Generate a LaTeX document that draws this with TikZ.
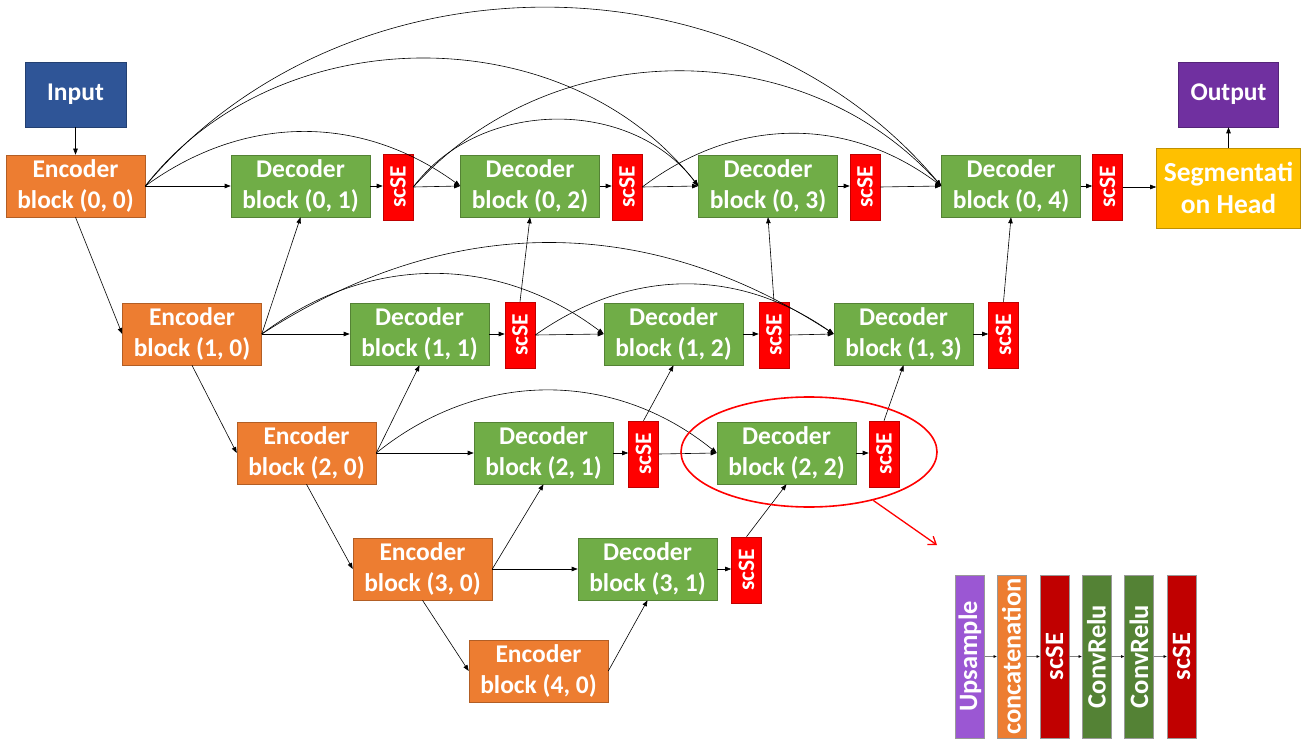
\documentclass[tikz,border=0pt]{standalone}
\usepackage{fontspec}
\usepackage{graphicx}
\setmainfont{Carlito}
\usetikzlibrary{arrows.meta,shapes.geometric}
\definecolor{cblue}{HTML}{2F5597}
\definecolor{corange}{HTML}{ED7D31}
\definecolor{cgreen}{HTML}{70AD47}
\definecolor{cred}{HTML}{FF0000}
\definecolor{cyellow}{HTML}{FFC000}
\definecolor{cpurple}{HTML}{7030A0}
\definecolor{cviolet}{HTML}{9B57D3}
\definecolor{cdred}{HTML}{C00000}
\definecolor{cdgreen}{HTML}{548235}
\begin{document}
\begin{tikzpicture}[x=1pt,y=-1pt,
  lbl/.style={font=\fontsize{25.5}{31}\selectfont\bfseries},
  box/.style={rectangle, draw=#1!75!black, fill=#1, text=white, lbl, align=center,
    minimum width=139pt, minimum height=62pt, inner sep=0pt, line width=0.6pt},
  enc/.style={box=corange},
  dec/.style={box=cgreen},
  se/.style={rectangle, draw=cred!75!black, fill=cred, text=white,
    font=\fontsize{23.5}{26}\selectfont\bfseries,
    minimum width=30pt, minimum height=66pt, inner sep=0pt, line width=0.6pt},
  bar/.style={rectangle, draw=gray!80, fill=#1, text=white, font=\fontsize{26.5}{30}\selectfont\bfseries,
    minimum width=29pt, minimum height=163pt, inner sep=0pt, line width=0.6pt},
  arr/.style={line width=0.6pt, -{Triangle[length=6pt,width=4.5pt]}},
  barr/.style={draw=gray, line width=0.5pt, -{Triangle[length=3pt,width=2.5pt,color=black]}}
]
\useasboundingbox (0,0) rectangle (1307,741);

% top row
\node[box=cblue, minimum width=101pt, minimum height=65pt] (in) at (75.5,94.5) {Input};
\node[enc] (e00) at (75.5,186) {Encoder\\block (0, 0)};
\node[dec] (d01) at (300.5,186) {Decoder\\block (0, 1)};
\node[se]  (s01) at (398,187) {\rotatebox{90}{scSE}};
\node[dec] (d02) at (530,186) {Decoder\\block (0, 2)};
\node[se]  (s02) at (627,187) {\rotatebox{90}{scSE}};
\node[dec] (d03) at (768,186) {Decoder\\block (0, 3)};
\node[se]  (s03) at (865,187) {\rotatebox{90}{scSE}};
\node[dec] (d04) at (1011,186) {Decoder\\block (0, 4)};
\node[se]  (s04) at (1107.5,187) {\rotatebox{90}{scSE}};
\node[box=cyellow, minimum width=144pt, minimum height=80pt, font=\fontsize{27.5}{32}\selectfont\bfseries] (seg) at (1228.5,188) {Segmentati\\on Head};
\node[box=cpurple, minimum width=100pt, minimum height=65pt] (out) at (1228.5,94.5) {Output};

% row 1
\node[enc] (e10) at (192,334) {Encoder\\block (1, 0)};
\node[dec] (d11) at (419.5,334) {Decoder\\block (1, 1)};
\node[se]  (s11) at (520,335) {\rotatebox{90}{scSE}};
\node[dec] (d12) at (673.5,334) {Decoder\\block (1, 2)};
\node[se]  (s12) at (774,335) {\rotatebox{90}{scSE}};
\node[dec] (d13) at (903.5,334) {Decoder\\block (1, 3)};
\node[se]  (s13) at (1003.5,335) {\rotatebox{90}{scSE}};

% row 2
\node[enc] (e20) at (306.5,453) {Encoder\\block (2, 0)};
\node[dec] (d21) at (543.5,453) {Decoder\\block (2, 1)};
\node[se]  (s21) at (643.5,454) {\rotatebox{90}{scSE}};
\node[dec] (d22) at (786.5,453) {Decoder\\block (2, 2)};
\node[se]  (s22) at (884,454) {\rotatebox{90}{scSE}};

% row 3
\node[enc] (e30) at (422.5,569) {Encoder\\block (3, 0)};
\node[dec] (d31) at (647.5,569) {Decoder\\block (3, 1)};
\node[se]  (s31) at (746.5,570) {\rotatebox{90}{scSE}};

% row 4
\node[enc] (e40) at (538.5,671) {Encoder\\block (4, 0)};

% vertical / diagonal connections
\draw[arr] (in) -- (e00);
\draw[arr] (seg.north) -- (out.south);
\draw[arr] (e00.south) -- (e10.west);
\draw[arr] (e10.south) -- (e20.west);
\draw[arr] (e20.south) -- (e30.west);
\draw[arr] (e30.south) -- (e40.west);
\draw[arr] (e10.east) -- (d01.south);
\draw[arr] (e20.east) -- (d11.south);
\draw[arr] (e30.east) -- (d21.south);
\draw[arr] (e40.east) -- (d31.south);
\draw[arr] (s11.north) -- (d02.south);
\draw[arr] (s12.north) -- (d03.south);
\draw[arr] (s13.north) -- (d04.south);
\draw[arr] (s21.north) -- (d12.south);
\draw[arr] (s22.north) -- (d13.south);
\draw[arr] (s31.north) -- (d22.south);

% horizontal connections
\draw[arr] (e00.east) -- (d01.west);
\draw[arr] (e10.east) -- (d11.west);
\draw[arr] (e20.east) -- (d21.west);
\draw[arr] (e30.east) -- (d31.west);
\foreach \d/\s in {d01/s01,d02/s02,d03/s03,d04/s04,d11/s11,d12/s12,d13/s13,d21/s21,d22/s22,d31/s31}
  \draw[arr] (\d.east) -- (\s.west |- \d.east);
\foreach \s/\d in {s01/d02,s02/d03,s03/d04,s11/d12,s12/d13,s21/d22}
  \draw[arr] (\s.east) -- (\d.west);
\draw[arr] (s04.east) -- (seg.west |- s04.east);

% skip arcs
\draw[arr] (e00.east) to[bend left=36] (d02.west);
\draw[arr] (e00.east) to[bend left=52] (d03.west);
\draw[arr] (e00.east) to[bend left=50] (d04.west);
\draw[arr] (s01.east) to[bend left=53] (d03.west);
\draw[arr] (s01.east) to[bend left=48] (d04.west);
\draw[arr] (s02.east) to[bend left=37] (d04.west);
\draw[arr] (e10.east) to[bend left=37] (d12.west);
\draw[arr] (e10.east) to[bend left=33] (d13.west);
\draw[arr] (s11.east) to[bend left=35] (d13.west);
\draw[arr] (e20.east) to[bend left=39] (d22.west);

% highlight
\node[draw=red, line width=1.6pt, ellipse, minimum width=256pt, minimum height=110pt, inner sep=0pt] (ell) at (809,452) {};
\coordinate (rtip) at (937,545);
\draw[red, line width=1.3pt, -{Straight Barb[length=7pt,width=10pt]}] (ell.-37) -- (rtip);

% detail bars
\node[bar=cviolet] (b1) at (970,656.5) {\rotatebox{90}{Upsample}};
\node[bar=corange] (b2) at (1011.5,656.5) {\rotatebox{90}{concatenation}};
\node[bar=cdred]   (b3) at (1054.5,656.5) {\rotatebox{90}{scSE}};
\node[bar=cdgreen] (b4) at (1096.5,656.5) {\rotatebox{90}{ConvRelu}};
\node[bar=cdgreen] (b5) at (1139,656.5) {\rotatebox{90}{ConvRelu}};
\node[bar=cdred]   (b6) at (1181.5,656.5) {\rotatebox{90}{scSE}};
\draw[barr] (b1.east) -- (b2.west);
\draw[barr] (b2.east) -- (b3.west);
\draw[barr] (b3.east) -- (b4.west);
\draw[barr] (b4.east) -- (b5.west);
\draw[barr] (b5.east) -- (b6.west);
\end{tikzpicture}
\end{document}
